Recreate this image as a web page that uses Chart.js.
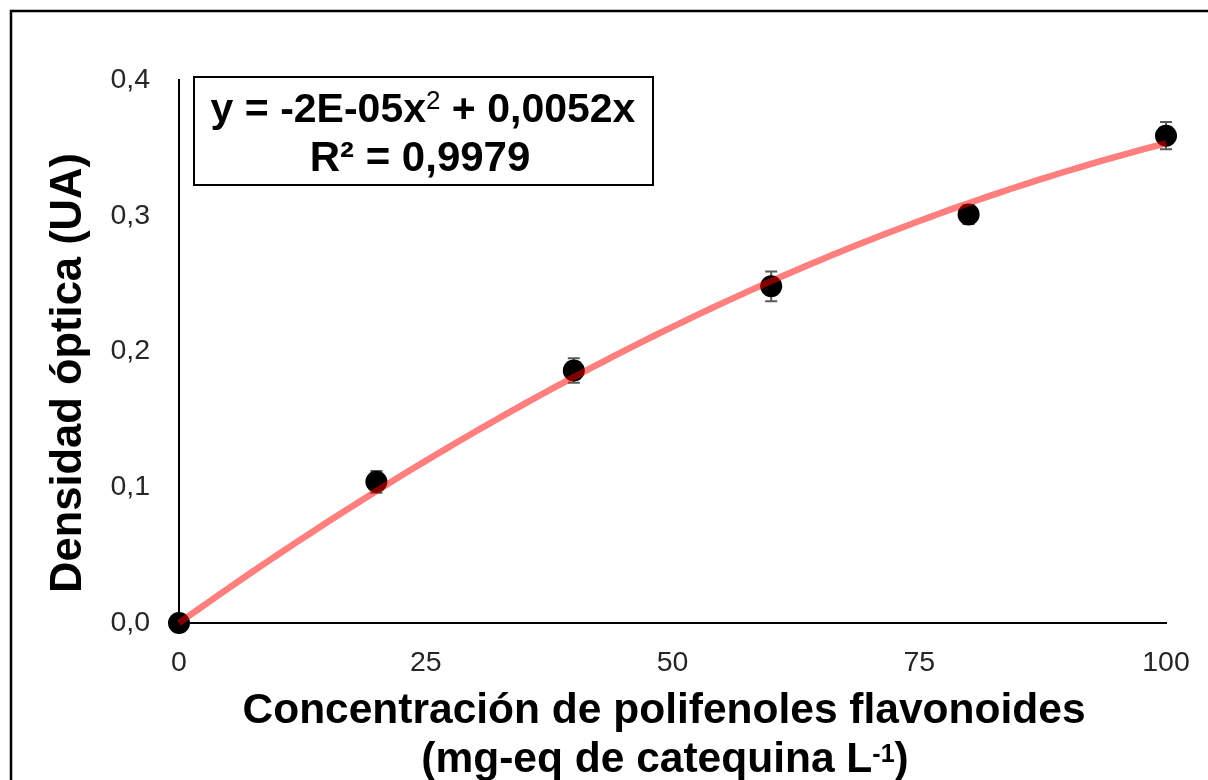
<!DOCTYPE html>
<html>
<head>
<meta charset="utf-8">
<script src="https://cdn.jsdelivr.net/npm/chart.js@4/dist/chart.umd.min.js"></script>
<style>
  html, body { margin: 0; padding: 0; background: #fff; }
  #wrap { width: 1208px; height: 780px; position: relative; }
</style>
</head>
<body>
<div id="wrap"><canvas id="c" width="1208" height="780"></canvas></div>
<script>
// Catechin standard: concentration (mg-eq L-1) vs optical density (UA)
const concentration = [0, 20, 40, 60, 80, 100];
const opticalDensity = [0, 0.104, 0.186, 0.248, 0.301, 0.359];
const densityError = [0, 0.008, 0.009, 0.011, 0.007, 0.010];

const xTicks = [0, 25, 50, 75, 100];
const yTicks = [0, 0.1, 0.2, 0.3, 0.4];

const yTitle = 'Densidad óptica (UA)';
const xTitleLine1 = 'Concentración de polifenoles flavonoides';
const xTitleLine2 = ['(mg-eq de catequina L', '-1', ')'];
const r2Text = '0,9979';

const FONT = '"Liberation Sans", Arial, sans-serif';

// Polynomial trend of order 2 through the origin (least squares on the points)
function fitQuadraticThroughOrigin(xs, ys) {
  let s2 = 0, s3 = 0, s4 = 0, sxy = 0, sx2y = 0;
  for (let i = 0; i < xs.length; i++) {
    const x = xs[i], y = ys[i];
    s2 += x * x; s3 += x * x * x; s4 += x * x * x * x;
    sxy += x * y; sx2y += x * x * y;
  }
  const det = s4 * s2 - s3 * s3;
  const a = (sx2y * s2 - s3 * sxy) / det;
  const b = (s4 * sxy - s3 * sx2y) / det;
  return { a, b };
}
const fit = fitQuadraticThroughOrigin(concentration, opticalDensity);

const trendPoints = [];
for (let x = 0; x <= 100; x += 1) {
  trendPoints.push({ x, y: fit.a * x * x + fit.b * x });
}

function excelSci(v) {
  const [m, e] = v.toExponential(0).split('e');
  const n = parseInt(e, 10);
  return m + 'E' + (n < 0 ? '-' : '+') + String(Math.abs(n)).padStart(2, '0');
}
const coefA = excelSci(fit.a);
const coefB = fit.b.toFixed(4).replace('.', ',');

const comma = v => v.toFixed(1).replace('.', ',');

// Vertical error bars, drawn under the markers
const errorBars = {
  id: 'errorBars',
  beforeDatasetsDraw(chart) {
    const { ctx, scales: { x, y } } = chart;
    ctx.save();
    ctx.strokeStyle = '#5a5a5a';
    ctx.lineWidth = 2;
    concentration.forEach((c, i) => {
      const e = densityError[i];
      if (!e) return;
      const px = x.getPixelForValue(c);
      const top = y.getPixelForValue(opticalDensity[i] + e);
      const bot = y.getPixelForValue(opticalDensity[i] - e);
      ctx.beginPath();
      ctx.moveTo(px, top); ctx.lineTo(px, bot);
      ctx.moveTo(px - 6, top); ctx.lineTo(px + 6, top);
      ctx.moveTo(px - 6, bot); ctx.lineTo(px + 6, bot);
      ctx.stroke();
    });
    ctx.restore();
  }
};

// Frame, axis titles and the equation box
const decorations = {
  id: 'decorations',
  afterDraw(chart) {
    const { ctx } = chart;
    ctx.save();

    // outer frame
    ctx.strokeStyle = '#000';
    ctx.lineWidth = 2.5;
    ctx.beginPath();
    ctx.moveTo(11, 790); ctx.lineTo(11, 11); ctx.lineTo(1220, 11);
    ctx.stroke();

    ctx.fillStyle = '#000';

    // y title
    ctx.save();
    ctx.translate(81, 373);
    ctx.rotate(-Math.PI / 2);
    ctx.font = 'bold 43.5px ' + FONT;
    ctx.textAlign = 'center';
    ctx.textBaseline = 'alphabetic';
    ctx.fillText(yTitle, 0, 0);
    ctx.restore();

    // x title
    ctx.font = 'bold 42.5px ' + FONT;
    ctx.textAlign = 'center';
    ctx.textBaseline = 'alphabetic';
    ctx.fillText(xTitleLine1, 664, 723);

    drawRuns(ctx, 665, 772, [
      { t: xTitleLine2[0], f: 'bold 42.5px ' + FONT, dy: 0 },
      { t: xTitleLine2[1], f: 'bold 25px ' + FONT, dy: -10 },
      { t: xTitleLine2[2], f: 'bold 42.5px ' + FONT, dy: 0 }
    ]);

    // equation box
    ctx.lineWidth = 2;
    ctx.strokeStyle = '#000';
    ctx.fillStyle = '#fff';
    ctx.fillRect(194, 77, 459, 108);
    ctx.strokeRect(194, 77, 459, 108);
    ctx.fillStyle = '#000';
    drawRuns(ctx, 423, 122, [
      { t: 'y = ' + coefA + 'x', f: 'bold 41px ' + FONT, dy: 0 },
      { t: '2', f: '26px ' + FONT, dy: -13 },
      { t: ' + ' + coefB + 'x', f: 'bold 41px ' + FONT, dy: 0 }
    ]);
    drawRuns(ctx, 420, 171, [
      { t: 'R² = ' + r2Text, f: 'bold 42px ' + FONT, dy: 0 }
    ]);

    ctx.restore();
  }
};

function drawRuns(ctx, cx, baseline, runs) {
  ctx.save();
  ctx.textAlign = 'left';
  ctx.textBaseline = 'alphabetic';
  let total = 0;
  runs.forEach(r => { ctx.font = r.f; r.w = ctx.measureText(r.t).width; total += r.w; });
  let x = cx - total / 2;
  runs.forEach(r => { ctx.font = r.f; ctx.fillText(r.t, x, baseline + r.dy); x += r.w; });
  ctx.restore();
}

new Chart(document.getElementById('c'), {
  type: 'scatter',
  data: {
    datasets: [
      {
        label: 'Tendencia',
        data: trendPoints,
        showLine: true,
        borderColor: 'rgba(255, 0, 0, 0.5)',
        borderWidth: 6.5,
        pointRadius: 0,
        tension: 0,
        order: 0,
        clip: false
      },
      {
        label: 'Densidad óptica',
        data: concentration.map((c, i) => ({ x: c, y: opticalDensity[i] })),
        backgroundColor: '#000',
        borderWidth: 0,
        pointRadius: 11,
        order: 1,
        clip: false
      }
    ]
  },
  options: {
    responsive: false,
    animation: false,
    events: [],
    layout: { padding: { top: 80, right: 42, bottom: 0, left: 0 } },
    plugins: { legend: { display: false }, tooltip: { enabled: false } },
    scales: {
      x: {
        type: 'linear',
        min: 0, max: 100,
        afterBuildTicks: s => { s.ticks = xTicks.map(v => ({ value: v })); },
        afterFit: s => { s.height = 157; s.paddingLeft = 0; s.paddingRight = 0; },
        grid: { drawOnChartArea: false, drawTicks: false },
        border: { color: '#000', width: 2 },
        ticks: {
          padding: 23,
          color: '#262626',
          font: { family: FONT, size: 28.5 },
          callback: v => String(v)
        }
      },
      y: {
        type: 'linear',
        min: 0, max: 0.4,
        afterBuildTicks: s => { s.ticks = yTicks.map(v => ({ value: v })); },
        afterFit: s => { s.width = 179; s.paddingTop = 0; s.paddingBottom = 0; },
        grid: { drawOnChartArea: false, drawTicks: false },
        border: { color: '#000', width: 2 },
        ticks: {
          padding: 29,
          color: '#262626',
          font: { family: FONT, size: 28.5 },
          callback: v => comma(v)
        }
      }
    }
  },
  plugins: [errorBars, decorations]
});
</script>
</body>
</html>
